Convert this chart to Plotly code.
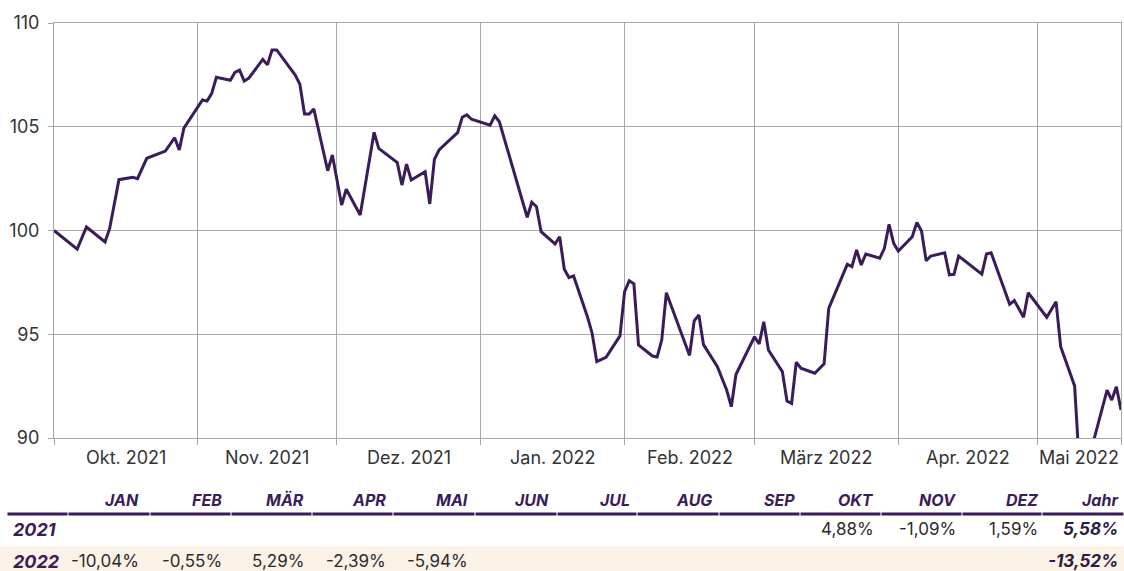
import plotly.graph_objects as go
import pandas as pd

# ---------------- data ----------------
dates = [
    "2021-10-01", "2021-10-06", "2021-10-08", "2021-10-12", "2021-10-13", "2021-10-15", "2021-10-18",
    "2021-10-19", "2021-10-21", "2021-10-25", "2021-10-27", "2021-10-28", "2021-10-29",
    "2021-11-02", "2021-11-03", "2021-11-04", "2021-11-05", "2021-11-08", "2021-11-09", "2021-11-10",
    "2021-11-11", "2021-11-12", "2021-11-15", "2021-11-16", "2021-11-17", "2021-11-18", "2021-11-22",
    "2021-11-23", "2021-11-24", "2021-11-25", "2021-11-26", "2021-11-29", "2021-11-30",
    "2021-12-02", "2021-12-03", "2021-12-06", "2021-12-09", "2021-12-10", "2021-12-14", "2021-12-15",
    "2021-12-16", "2021-12-17", "2021-12-20", "2021-12-21", "2021-12-22", "2021-12-23", "2021-12-27",
    "2021-12-28", "2021-12-29", "2021-12-30",
    "2022-01-03", "2022-01-04", "2022-01-05", "2022-01-11", "2022-01-12", "2022-01-13", "2022-01-14",
    "2022-01-17", "2022-01-18", "2022-01-19", "2022-01-20", "2022-01-21", "2022-01-24", "2022-01-25",
    "2022-01-26", "2022-01-28", "2022-01-31",
    "2022-02-01", "2022-02-02", "2022-02-03", "2022-02-04", "2022-02-07", "2022-02-08", "2022-02-09",
    "2022-02-10", "2022-02-15", "2022-02-16", "2022-02-17", "2022-02-18", "2022-02-21", "2022-02-23",
    "2022-02-24", "2022-02-25", "2022-02-28",
    "2022-03-01", "2022-03-02", "2022-03-03", "2022-03-04", "2022-03-07", "2022-03-08", "2022-03-09",
    "2022-03-10", "2022-03-11", "2022-03-14", "2022-03-16", "2022-03-17", "2022-03-21", "2022-03-22",
    "2022-03-23", "2022-03-24", "2022-03-25", "2022-03-28", "2022-03-29", "2022-03-30", "2022-03-31",
    "2022-04-01", "2022-04-04", "2022-04-05", "2022-04-06", "2022-04-07", "2022-04-08", "2022-04-11",
    "2022-04-12", "2022-04-13", "2022-04-14", "2022-04-19", "2022-04-20", "2022-04-21", "2022-04-25",
    "2022-04-26", "2022-04-28", "2022-04-29",
    "2022-05-03", "2022-05-05", "2022-05-06", "2022-05-09", "2022-05-10", "2022-05-11", "2022-05-12",
    "2022-05-13", "2022-05-16", "2022-05-17", "2022-05-18", "2022-05-19",
]

values = [
    100.0, 99.1, 100.17, 99.45, 100.1, 102.45, 102.56, 102.5, 103.48, 103.83, 104.47, 103.88, 104.93,
    106.29, 106.24, 106.61, 107.38, 107.24, 107.62, 107.73, 107.2, 107.34, 108.25, 107.98, 108.7, 108.7,
    107.49, 107.05, 105.61, 105.61, 105.86, 102.88, 103.64,
    101.23, 101.99, 100.75, 104.73, 103.96, 103.27, 102.19, 103.2, 102.43, 102.83, 101.28, 103.43,
    103.88, 104.72, 105.46, 105.57, 105.36,
    105.08, 105.53, 105.24, 100.64, 101.36, 101.15, 99.94, 99.35, 99.7, 98.13, 97.73, 97.81, 95.83,
    95.05, 93.68, 93.89, 94.92,
    97.05, 97.58, 97.43, 94.48, 93.95, 93.9, 94.72, 97.0, 93.98, 95.65, 95.93, 94.5, 93.44, 92.31,
    91.51, 93.06, 94.4,
    94.88, 94.53, 95.6, 94.24, 93.2, 91.78, 91.67, 93.65, 93.36, 93.12, 93.57, 96.25, 98.37, 98.26,
    99.06, 98.34, 98.87, 98.67, 99.14, 100.3, 99.38,
    99.01, 99.7, 100.39, 99.98, 98.54, 98.77, 98.93, 97.86, 97.89, 98.77, 97.9, 98.87, 98.93, 96.44,
    96.62, 95.82, 97.0,
    95.82, 96.57, 94.4, 92.51, 88.78, 88.1, 88.94, 89.78, 92.31, 91.83, 92.47, 91.35,
]

month_starts = ["2021-10-01", "2021-11-01", "2021-12-01", "2022-01-01", "2022-02-01",
                "2022-03-01", "2022-04-01", "2022-05-01"]
range_end = "2022-05-19"
month_labels = ["Okt. 2021", "Nov. 2021", "Dez. 2021", "Jan. 2022", "Feb. 2022",
                "März 2022", "Apr. 2022", "Mai 2022"]

y_ticks = [90, 95, 100, 105, 110]

table_headers = ["JAN", "FEB", "MÄR", "APR", "MAI", "JUN", "JUL", "AUG", "SEP", "OKT", "NOV", "DEZ", "Jahr"]
table_years = ["2021", "2022"]
returns_2021 = ["", "", "", "", "", "", "", "", "", "4,88%", "-1,09%", "1,59%", "5,58%"]
returns_2022 = ["-10,04%", "-0,55%", "5,29%", "-2,39%", "-5,94%", "", "", "", "", "", "", "", "-13,52%"]

# ---------------- styling / layout ----------------
W, H = 1124, 571
ML, MR, MT, MB = 54, 3, 23, 133
PW, PH = W - ML - MR, H - MT - MB
FONT = "Inter, 'Open Sans', sans-serif"
PURPLE = "#3b1c5a"
GRID = "#a8a8a8"
TEXT = "#333333"


def px(x):
    return (x - ML) / PW


def py(y):
    return (H - MB - y) / PH


fig = go.Figure()
fig.add_trace(go.Scatter(x=pd.to_datetime(dates), y=values, mode="lines",
                         line=dict(color=PURPLE, width=3), hoverinfo="x+y"))

tick_dates = month_starts + [range_end]
fig.update_xaxes(
    type="date", range=[month_starts[0], range_end],
    tickmode="array", tickvals=tick_dates, ticktext=[""] * len(tick_dates),
    showgrid=True, gridcolor=GRID, gridwidth=1,
    ticks="outside", ticklen=6, tickcolor=GRID,
    showline=True, linecolor=GRID, linewidth=1, mirror=True, zeroline=False,
)
fig.update_yaxes(
    range=[90, 110], tickmode="array", tickvals=y_ticks,
    showgrid=True, gridcolor=GRID, gridwidth=1,
    ticks="outside", ticklen=5, tickcolor=GRID,
    showline=True, linecolor=GRID, linewidth=1, mirror=True, zeroline=False,
    tickfont=dict(family=FONT, size=18, color=TEXT), ticklabelstandoff=5,
)

annotations = []
# month labels centred in visible part of each month
bounds = pd.to_datetime(tick_dates)
for i, lab in enumerate(month_labels):
    mid = bounds[i] + (bounds[i + 1] - bounds[i]) / 2
    annotations.append(dict(x=mid, y=0, xref="x", yref="paper", text=lab, showarrow=False,
                            xanchor="center", yanchor="top", yshift=-7,
                            font=dict(family=FONT, size=18, color=TEXT)))

# table
col_right = [141, 224, 306, 388, 470, 551, 632, 714, 797, 876, 958, 1040, 1120]
header_y, row_y = 500, [529, 561]
hfont = dict(family=FONT, size=16, color=PURPLE, weight="bold", style="italic")
yfont = dict(family=FONT, size=18, color=PURPLE, weight="bold", style="italic")
for xr, h in zip(col_right, table_headers):
    annotations.append(dict(x=px(xr), y=py(header_y), xref="paper", yref="paper", text=h,
                            showarrow=False, xanchor="right", yanchor="middle", font=hfont))
for ry, yr, row in zip(row_y, table_years, [returns_2021, returns_2022]):
    annotations.append(dict(x=px(11), y=py(ry), xref="paper", yref="paper", text=yr,
                            showarrow=False, xanchor="left", yanchor="middle", font=yfont))
    for j, (xr, v) in enumerate(zip(col_right, row)):
        if not v:
            continue
        if j == len(row) - 1:
            f = dict(family=FONT, size=17, color="#2a1c40", weight="bold", style="italic")
        else:
            f = dict(family=FONT, size=17, color="#2b2b2b")
        annotations.append(dict(x=px(xr), y=py(ry), xref="paper", yref="paper", text=v,
                                showarrow=False, xanchor="right", yanchor="middle", font=f))

shapes = [dict(type="rect", xref="paper", yref="paper", x0=px(0), x1=px(W), y0=py(546), y1=py(H + 5),
               fillcolor="#faf1e7", line=dict(width=0), layer="below")]
col_bounds = [7, 68, 150, 231, 312, 393, 475, 557, 637, 719, 800, 881, 962, 1042, 1124]
for a, b in zip(col_bounds[:-1], col_bounds[1:]):
    shapes.append(dict(type="line", xref="paper", yref="paper", x0=px(a + 0.5), x1=px(b - 0.5),
                       y0=py(514), y1=py(514), line=dict(color=PURPLE, width=3)))

fig.update_layout(
    width=W, height=H, margin=dict(l=ML, r=MR, t=MT, b=MB),
    paper_bgcolor="white", plot_bgcolor="white", showlegend=False,
    font=dict(family=FONT, size=16, color=TEXT),
    annotations=annotations, shapes=shapes,
)

fig.write_html("out.html", config={"displayModeBar": False},
               post_script="document.body.style.margin='0';")
